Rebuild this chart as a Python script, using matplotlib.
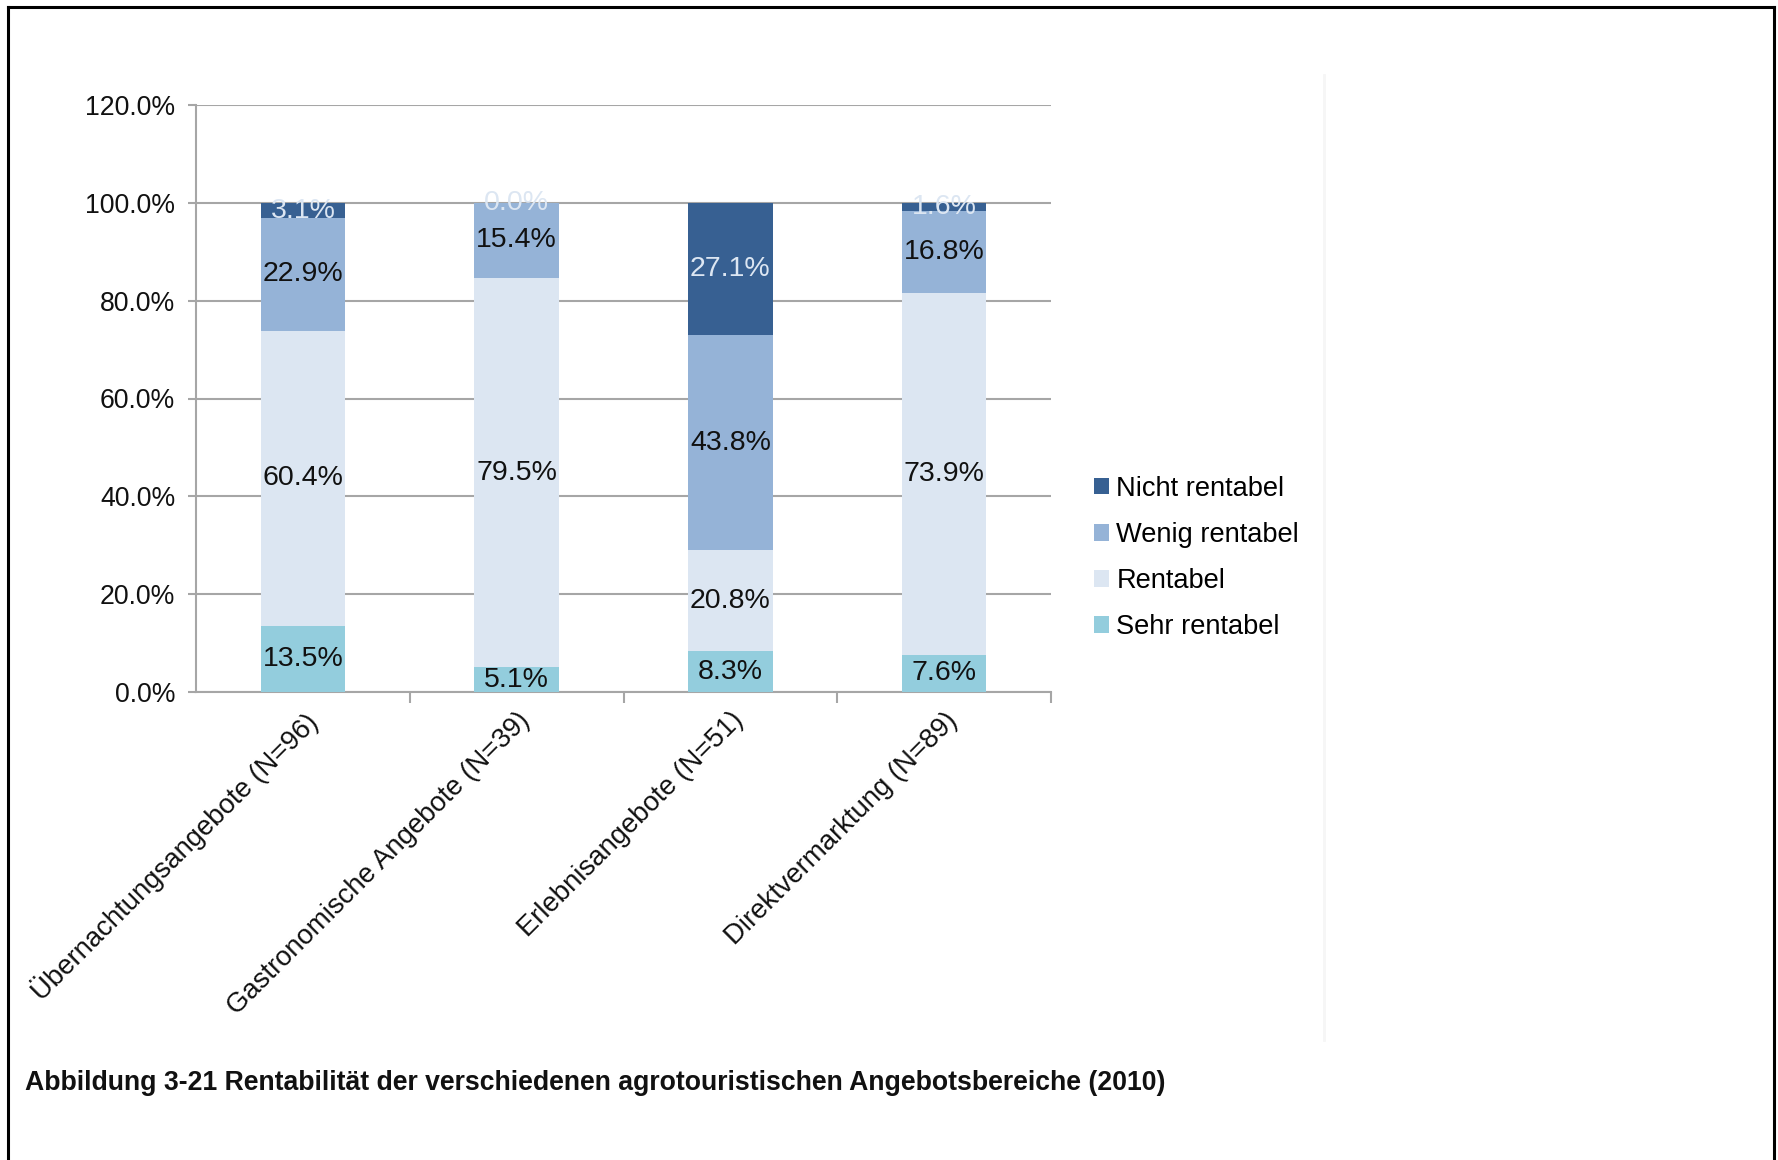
import matplotlib
matplotlib.use("Agg")
import matplotlib.pyplot as plt
from matplotlib.lines import Line2D
from matplotlib.ticker import FixedLocator, PercentFormatter

plt.rcParams['font.family'] = ['Liberation Sans', 'DejaVu Sans']

categories = [
    "Übernachtungsangebote (N=96)",
    "Gastronomische Angebote (N=39)",
    "Erlebnisangebote (N=51)",
    "Direktvermarktung (N=89)",
]
sehr_rentabel = [13.5, 5.1, 8.3, 7.6]
rentabel = [60.4, 79.5, 20.8, 73.9]
wenig_rentabel = [22.9, 15.4, 43.8, 16.8]
nicht_rentabel = [3.1, 0.0, 27.1, 1.6]
series_names = ["Sehr rentabel", "Rentabel", "Wenig rentabel", "Nicht rentabel"]
y_ticks = [0, 20, 40, 60, 80, 100, 120]
caption = "Abbildung 3-21 Rentabilität der verschiedenen agrotouristischen Angebotsbereiche (2010)"

series = [sehr_rentabel, rentabel, wenig_rentabel, nicht_rentabel]
colors = ["#93CDDD", "#DCE6F2", "#95B3D7", "#376092"]
label_colors = ["#111111", "#111111", "#111111", "#DCE6F2"]

fig = plt.figure(figsize=(17.78, 11.60), dpi=100)
ax = fig.add_axes([196 / 1778, 1 - 692 / 1160, (1051 - 196) / 1778, (692 - 105) / 1160])

x = list(range(len(categories)))
bottoms = [0.0] * len(categories)
handles = []
for vals, col, lcol, name in zip(series, colors, label_colors, series_names):
    bars = ax.bar(x, vals, width=0.395, bottom=bottoms, color=col, label=name,
                  zorder=3, linewidth=0)
    handles.append(bars)
    for xi, v, b in zip(x, vals, bottoms):
        ax.text(xi, b + v / 2, f"{v:.1f}%", ha="center", va="center",
                fontsize=20.5, color=lcol, zorder=4)
    bottoms = [b + v for b, v in zip(bottoms, vals)]

grid_col = "#A6A6A6"
ax.set_ylim(0, 120)
ax.set_xlim(-0.5, len(categories) - 0.5)
ax.set_yticks(y_ticks)
ax.yaxis.set_major_formatter(PercentFormatter(decimals=1))
ax.yaxis.grid(True, color=grid_col, linewidth=1.5, zorder=0)
ax.set_axisbelow(True)
for s in ("top", "right"):
    ax.spines[s].set_visible(False)
for s in ("left", "bottom"):
    ax.spines[s].set_color(grid_col)
    ax.spines[s].set_linewidth(1.5)
ax.tick_params(axis="y", length=6, width=1.5, color=grid_col, pad=9,
               labelsize=19.2, labelcolor="#111111")

ax.set_xticks(x)
ax.set_xticklabels(categories, rotation=45, ha="right", rotation_mode="anchor",
                   fontsize=19.8, color="#111111")
ax.tick_params(axis="x", which="major", length=0, pad=11)
ax.xaxis.set_minor_locator(FixedLocator([i + 0.5 for i in range(len(categories))]))
ax.tick_params(axis="x", which="minor", length=8, width=1.5, color=grid_col)

leg = fig.legend(handles[::-1], series_names[::-1], loc="upper left",
                 bbox_to_anchor=(1083 / 1778, 1 - 465 / 1160), frameon=False,
                 fontsize=19.6, handlelength=0.55, handleheight=0.55,
                 handletextpad=0.28, labelspacing=0.74, borderaxespad=0)

fig.text(25 / 1778, 1 - 1083 / 1160, caption, fontsize=19.2, fontweight="bold",
         ha="left", va="center", color="#111111")

# outer frame (left, top, right) and faint chart-area edge
fig.add_artist(Line2D([8 / 1778, 8 / 1778], [0, 1 - 7 / 1160], transform=fig.transFigure,
                      color="black", linewidth=2.2))
fig.add_artist(Line2D([8 / 1778, 1774 / 1778], [1 - 7 / 1160, 1 - 7 / 1160],
                      transform=fig.transFigure, color="black", linewidth=2.2))
fig.add_artist(Line2D([1774 / 1778, 1774 / 1778], [0, 1 - 7 / 1160], transform=fig.transFigure,
                      color="black", linewidth=2.2))
fig.add_artist(Line2D([1324 / 1778, 1324 / 1778], [1 - 1040 / 1160, 1 - 75 / 1160],
                      transform=fig.transFigure, color="#F6F6F6", linewidth=2))

fig.savefig("out.png", dpi=100)
